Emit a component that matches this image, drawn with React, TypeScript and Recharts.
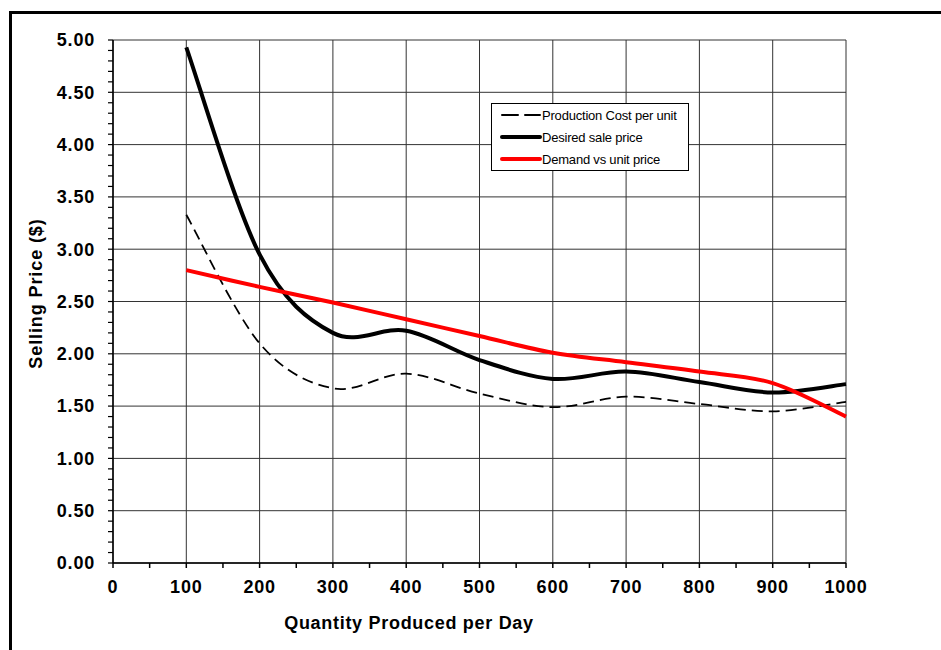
import React from 'react';
import { LineChart, Line, XAxis, YAxis, CartesianGrid, Legend, Label } from 'recharts';

// ---- data ----
const QUANTITY = [100, 200, 300, 400, 500, 600, 700, 800, 900, 1000];
const PRODUCTION_COST = [3.33, 2.1, 1.67, 1.81, 1.62, 1.49, 1.59, 1.52, 1.45, 1.54];
const DESIRED_PRICE = [4.93, 2.95, 2.2, 2.22, 1.94, 1.76, 1.83, 1.73, 1.63, 1.71];
const DEMAND_PRICE = [2.8, 2.64, 2.49, 2.33, 2.17, 2.01, 1.92, 1.83, 1.72, 1.4];

const X_LABELS = [0, 100, 200, 300, 400, 500, 600, 700, 800, 900, 1000];
const X_MINOR_STEP = 50;
const Y_LABELS = [0, 0.5, 1, 1.5, 2, 2.5, 3, 3.5, 4, 4.5, 5];
const Y_MINOR_STEP = 0.1;

const SERIES_ORDER = ['cost', 'desired', 'demand'];
const SERIES_NAMES = {
  cost: 'Production Cost per unit',
  desired: 'Desired sale price',
  demand: 'Demand vs unit price',
};

const data = QUANTITY.map((q, i) => ({
  q,
  cost: PRODUCTION_COST[i],
  desired: DESIRED_PRICE[i],
  demand: DEMAND_PRICE[i],
}));

const X_TICKS = Array.from({ length: Math.round(1000 / X_MINOR_STEP) + 1 }, (_, i) => i * X_MINOR_STEP);
const Y_TICKS = Array.from({ length: Math.round(5 / Y_MINOR_STEP) + 1 }, (_, i) => Math.round(i * Y_MINOR_STEP * 10) / 10);

// Excel-like smoothed line (Catmull-Rom Bezier), as a d3 curve factory
const excelSmooth: any = (context: any) => {
  let pts: number[][] = [];
  return {
    areaStart() {},
    areaEnd() {},
    lineStart() {
      pts = [];
    },
    point(x: number, y: number) {
      pts.push([+x, +y]);
    },
    lineEnd() {
      const n = pts.length;
      if (!n) return;
      context.moveTo(pts[0][0], pts[0][1]);
      if (n === 2) {
        context.lineTo(pts[1][0], pts[1][1]);
        return;
      }
      for (let i = 0; i < n - 1; i++) {
        const p0 = pts[i - 1] || pts[i];
        const p1 = pts[i];
        const p2 = pts[i + 1];
        const p3 = pts[i + 2] || pts[i + 1];
        context.bezierCurveTo(
          p1[0] + (p2[0] - p0[0]) / 6,
          p1[1] + (p2[1] - p0[1]) / 6,
          p2[0] - (p3[0] - p1[0]) / 6,
          p2[1] - (p3[1] - p1[1]) / 6,
          p2[0],
          p2[1]
        );
      }
    },
  };
};

const FONT = '"Liberation Sans", Arial, Helvetica, sans-serif';

const isMultiple = (v: number, step: number) => Math.abs(v / step - Math.round(v / step)) < 1e-6;

const LEGEND_STYLE: Record<string, { color: string; width: number; dash?: string }> = {
  cost: { color: '#000000', width: 2, dash: '16 7' },
  desired: { color: '#000000', width: 4 },
  demand: { color: '#ff0000', width: 4 },
};

const renderLegend = (props: any) => {
  const payload = [...(props.payload || [])].sort(
    (a: any, b: any) => SERIES_ORDER.indexOf(a.dataKey) - SERIES_ORDER.indexOf(b.dataKey)
  );
  return (
    <div
      style={{
        border: '1px solid #000',
        background: '#fff',
        width: 198,
        boxSizing: 'border-box',
        padding: 0,
        fontFamily: FONT,
        fontSize: 13,
        color: '#000',
      }}
    >
      {payload.map((entry: any) => {
        const st = LEGEND_STYLE[entry.dataKey] || { color: entry.color, width: 2 };
        return (
          <div key={entry.dataKey} style={{ display: 'flex', alignItems: 'center', height: 22 }}>
            <svg width={50} height={10} style={{ flex: 'none' }}>
              <line
                x1={10}
                x2={48}
                y1={5}
                y2={5}
                stroke={st.color}
                strokeWidth={st.width}
                strokeDasharray={st.dash}
                strokeLinecap="round"
              />
            </svg>
            <span style={{ letterSpacing: -0.2, whiteSpace: 'nowrap' }}>{entry.value}</span>
          </div>
        );
      })}
    </div>
  );
};

const YTitle = (props: any) => {
  const vb = props.viewBox || { x: 0, y: 40, width: 113, height: 523 };
  const cx = vb.x + 36;
  const cy = vb.y + vb.height / 2 - 8;
  return (
    <text
      x={cx}
      y={cy}
      transform={`rotate(-90 ${cx} ${cy})`}
      textAnchor="middle"
      dominantBaseline="central"
      fontFamily={FONT}
      fontSize={18}
      fontWeight="bold"
      letterSpacing={0.9}
      fill="#000"
    >
      Selling Price ($)
    </text>
  );
};

const XTitle = (props: any) => {
  const vb = props.viewBox || { x: 113, y: 563, width: 733, height: 87 };
  const cx = vb.x + 296;
  const cy = vb.y + 66;
  return (
    <text
      x={cx}
      y={cy}
      textAnchor="middle"
      fontFamily={FONT}
      fontSize={18}
      fontWeight="bold"
      letterSpacing={0.7}
      fill="#000"
    >
      Quantity Produced per Day
    </text>
  );
};

export default function App() {
  return (
    <div
      style={{
        position: 'absolute',
        left: 0,
        top: 0,
        width: 941,
        height: 650,
        overflow: 'hidden',
        background: '#fff',
      }}
    >
      <div
        style={{
          position: 'absolute',
          left: 9,
          top: 11,
          width: 1000,
          height: 1000,
          border: '3px solid #000',
          boxSizing: 'border-box',
        }}
      />
      <div style={{ position: 'absolute', left: 0, top: 0 }}>
        <LineChart width={941} height={650} data={data} margin={{ top: 40, right: 95, bottom: 0, left: 0 }}>
          <CartesianGrid
            stroke="#333333"
            strokeWidth={1}
            horizontalValues={Y_LABELS}
            verticalValues={X_LABELS}
          />
          <XAxis
            dataKey="q"
            type="number"
            domain={[0, 1000]}
            ticks={X_TICKS}
            interval={0}
            height={87}
            tickSize={5}
            tickMargin={12}
            axisLine={{ stroke: '#000', strokeWidth: 1.5 }}
            tickLine={{ stroke: '#000', strokeWidth: 1.5 }}
            tickFormatter={(v: number) => (isMultiple(v, 100) ? String(v) : '')}
            tick={{ fill: '#000', fontSize: 18, fontWeight: 'bold', fontFamily: FONT, letterSpacing: 0.8 }}
          >
            <Label content={<XTitle />} />
          </XAxis>
          <YAxis
            type="number"
            domain={[0, 5]}
            ticks={Y_TICKS}
            interval={0}
            width={113}
            tickSize={5}
            tickMargin={13}
            axisLine={{ stroke: '#000', strokeWidth: 1.5 }}
            tickLine={{ stroke: '#000', strokeWidth: 1.2 }}
            tickFormatter={(v: number) => (isMultiple(v, 0.5) ? v.toFixed(2) : '')}
            tick={{ fill: '#000', fontSize: 18, fontWeight: 'bold', fontFamily: FONT, letterSpacing: 0.8 }}
          >
            <Label content={<YTitle />} />
          </YAxis>
          <Legend
            layout="vertical"
            align="center"
            verticalAlign="middle"
            content={renderLegend}
            wrapperStyle={{ left: 491, top: 103, width: 198, height: 'auto' }}
          />
          <Line
            dataKey="cost"
            name={SERIES_NAMES.cost}
            type={excelSmooth}
            stroke="#000"
            strokeWidth={1.8}
            strokeDasharray="11 6"
            dot={false}
            activeDot={false}
            isAnimationActive={false}
          />
          <Line
            dataKey="desired"
            name={SERIES_NAMES.desired}
            type={excelSmooth}
            stroke="#000"
            strokeWidth={4}
            dot={false}
            activeDot={false}
            isAnimationActive={false}
          />
          <Line
            dataKey="demand"
            name={SERIES_NAMES.demand}
            type={excelSmooth}
            stroke="#ff0000"
            strokeWidth={4}
            dot={false}
            activeDot={false}
            isAnimationActive={false}
          />
        </LineChart>
      </div>
    </div>
  );
}
